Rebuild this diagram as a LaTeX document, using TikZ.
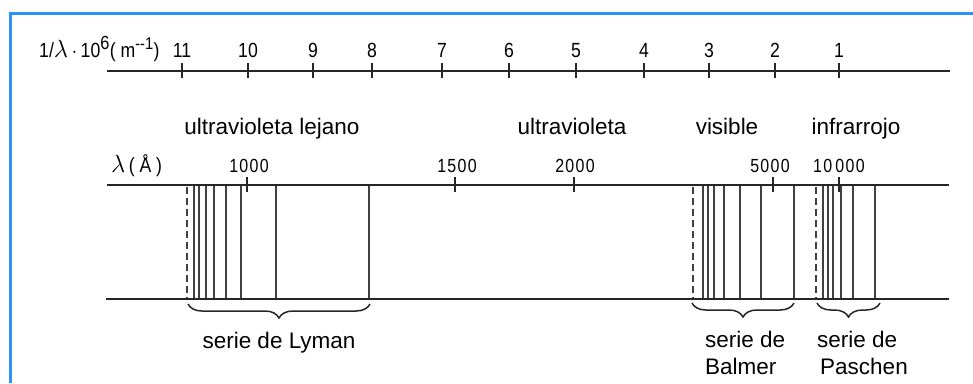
\documentclass[tikz,border=0pt]{standalone}
\usepackage{fontspec}
\setmainfont{Liberation Sans}
\newfontfamily\numfont[FakeStretch=0.86]{Liberation Sans}
\newfontfamily\widenum[FakeStretch=0.84,LetterSpace=7]{Liberation Sans}
\usetikzlibrary{decorations.pathreplacing}
\definecolor{framecol}{RGB}{45,145,245}
\tikzset{
  axisline/.style={line width=2.4pt,black!85},
  tickmark/.style={line width=1.8pt,black!85},
  specline/.style={line width=1.3pt,black!75},
  dashline/.style={line width=1.3pt,black!75,dash pattern=on 7pt off 4pt},
  numlabel/.style={font=\numfont\fontsize{20.5}{20.5}\selectfont,inner sep=0pt,anchor=base},
  wavelabel/.style={font=\widenum\fontsize{19}{19}\selectfont,inner sep=0pt,anchor=base},
  regionlabel/.style={font=\fontsize{22.5}{24}\selectfont,inner sep=0pt,anchor=base},
  seriesline/.style={font=\fontsize{22.5}{24}\selectfont,inner sep=0pt,anchor=base west},
  seriesbrace/.style={decorate,decoration={brace,mirror,amplitude=14pt},line width=1.5pt,black!85}
}
\begin{document}
\begin{tikzpicture}[x=1pt,y=-1pt]
\useasboundingbox (0,0) rectangle (973,383);
% frame
\draw[framecol,line width=3pt] (10.5,383) -- (10.5,13) -- (973,13);

% wavenumber axis
\coordinate (wA) at (107,71);
\coordinate (wB) at (950,71);
\draw[axisline] (wA) -- (wB);
\node[numlabel,anchor=base west] (wtitle) at (39,57)
  {1/{\fontsize{23}{23}\selectfont$\lambda$}\,$\cdot$\,10\textsuperscript{\fontsize{19}{19}\selectfont 6}( m\textsuperscript{\fontsize{17}{17}\selectfont --1})};
\foreach \v/\x in {11/182,10/248,9/313,8/372,7/442,6/509,5/576,4/644,3/709,2/775,1/839}{
  \draw[tickmark] (\x,63) -- (\x,78);
  \node[numlabel] (w\v) at (\x,57) {\v};
}

% region names
\node[regionlabel] (farUV) at (272,134) {ultravioleta lejano};
\node[regionlabel] (UV) at (572,134) {ultravioleta};
\node[regionlabel] (vis) at (727,134) {visible};
\node[regionlabel] (IR) at (856,134) {infrarrojo};

% wavelength axis
\coordinate (lA) at (107,185);
\coordinate (lB) at (949,185);
\coordinate (bA) at (106,299);
\coordinate (bB) at (949,299);
\draw[axisline] (lA) -- (lB);
\draw[axisline] (bA) -- (bB);
\node[numlabel,anchor=base west] (ltitle) at (111,172)
  {{\fontsize{23}{23}\selectfont$\lambda$}\,( Å )};
\foreach \x in {247,455,574,773,839}{
  \draw[tickmark] (\x,177) -- (\x,192);
}
\foreach \v/\x/\t in {1000/247/1000,1500/455/1500,2000/573/2000,5000/768/5000,10000/837/10\,000}{
  \node[wavelabel] (l\v) at (\x+2,172) {\t};
}

% series limits (dashed) and spectral lines
\foreach \x in {187,693,816}{
  \draw[dashline] (\x,187) -- (\x,298);
}
\foreach \x in {194,199,206,214,226,241,276,369,
                703,708,714,724,740,761,794,
                823,828,833,841,853,875}{
  \draw[specline] (\x,186) -- (\x,298);
}

% series braces and names
\coordinate (ly1) at (188,304);
\coordinate (ly2) at (370,304);
\coordinate (ba1) at (692,303);
\coordinate (ba2) at (794,303);
\coordinate (pa1) at (817,303);
\coordinate (pa2) at (880,303);
\draw[seriesbrace] (ly1) -- (ly2);
\draw[seriesbrace] (ba1) -- (ba2);
\draw[seriesbrace] (pa1) -- (pa2);
\node[regionlabel] (lyman) at (279,348) {serie de Lyman};
\node[seriesline] (balmerA) at (705,347) {serie de};
\node[seriesline] (balmerB) at (705,374) {Balmer};
\node[seriesline] (paschenA) at (817,347) {serie de};
\node[seriesline] (paschenB) at (820,374) {Paschen};
\end{tikzpicture}
\end{document}
